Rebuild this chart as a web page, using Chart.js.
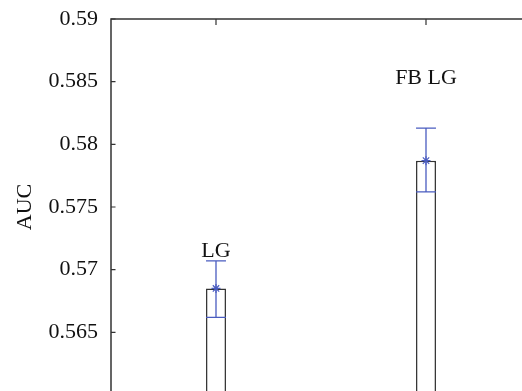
<!DOCTYPE html>
<html><head><meta charset="utf-8">
<script src="https://cdn.jsdelivr.net/npm/chart.js@4.4.1/dist/chart.umd.min.js"></script>
<style>
html,body{margin:0;padding:0;overflow:hidden;background:#fff;width:522px;height:391px}
#c{position:absolute;left:0;top:0}
</style></head><body>
<canvas id="c" width="545" height="410"></canvas>
<script>
const categories = ['LG', 'FB LG'];
const aucMean = [0.5685, 0.5787];
const errLow = [0.5662, 0.5762];
const errHigh = [0.5707, 0.5813];
const labelY = [0.5715, 0.5853];
const yTicks = [0.565, 0.57, 0.575, 0.58, 0.585, 0.59];
const yMin = 0.56, yMax = 0.59;

const FONT = '"Liberation Serif", "Times New Roman", serif';
const ERR = '#4a5cc0';
const AX = '#333333';

const overlay = {
  id: 'overlay',
  afterDatasetsDraw(chart) {
    const ctx = chart.ctx, xs = chart.scales.x, ys = chart.scales.y, ca = chart.chartArea;
    const bars = chart.getDatasetMeta(0).data;
    ctx.save();
    ctx.strokeStyle = ERR; ctx.lineWidth = 1.3;
    bars.forEach((b, i) => {
      const x = b.x, hw = b.width / 2;
      const yl = ys.getPixelForValue(errLow[i]), yh = ys.getPixelForValue(errHigh[i]);
      ctx.beginPath();
      ctx.moveTo(x, yl); ctx.lineTo(x, yh);
      ctx.moveTo(x - hw, yl); ctx.lineTo(x + hw, yl);
      ctx.moveTo(x - hw, yh); ctx.lineTo(x + hw, yh);
      ctx.stroke();
    });
    ctx.strokeStyle = AX; ctx.lineWidth = 1.5;
    ctx.beginPath();
    ctx.moveTo(ca.left, ca.bottom); ctx.lineTo(ca.left, ca.top); ctx.lineTo(ca.right, ca.top);
    ctx.stroke();
    ctx.lineWidth = 1.2;
    ctx.beginPath();
    yTicks.forEach(v => { const y = ys.getPixelForValue(v); ctx.moveTo(ca.left, y); ctx.lineTo(ca.left + 4.5, y); });
    categories.forEach((c, i) => { const x = xs.getPixelForValue(i); ctx.moveTo(x, ca.top); ctx.lineTo(x, ca.top + 6); });
    ctx.stroke();
    ctx.fillStyle = '#111111';
    ctx.font = '22px ' + FONT;
    ctx.textAlign = 'center'; ctx.textBaseline = 'middle';
    categories.forEach((c, i) => ctx.fillText(c, xs.getPixelForValue(i), ys.getPixelForValue(labelY[i])));
    ctx.restore();
  }
};

new Chart(document.getElementById('c'), {
  data: {
    labels: categories,
    datasets: [
      { type: 'bar', data: aucMean, backgroundColor: '#ffffff', borderColor: AX, borderWidth: 1.5,
        borderSkipped: false, barPercentage: 0.095, categoryPercentage: 1, base: yMin, order: 2 },
      { type: 'line', data: aucMean, showLine: false, pointStyle: 'star', pointRadius: 4.5,
        borderColor: ERR, backgroundColor: ERR, pointBorderWidth: 1.2, order: 1 }
    ]
  },
  options: {
    responsive: false, animation: false, devicePixelRatio: 1,
    layout: { padding: { left: 0, top: 19, right: 14, bottom: 15 } },
    plugins: { legend: { display: false }, tooltip: { enabled: false } },
    scales: {
      x: { type: 'category', offset: true, grid: { display: false, drawTicks: false }, border: { display: false },
           ticks: { display: false }, afterFit(s) { s.height = 0; } },
      y: { min: yMin, max: yMax,
           afterBuildTicks(s) { s.ticks = yTicks.map(v => ({ value: v })); },
           afterFit(s) { s.width = 111; s.paddingTop = 0; s.paddingBottom = 0; },
           grid: { display: false, drawTicks: false }, border: { display: false },
           ticks: { padding: 13, color: '#111111', font: { family: FONT, size: 22 },
                    callback: v => String(+v.toFixed(3)) },
           title: { display: true, text: 'AUC', color: '#111111', font: { family: FONT, size: 22 }, padding: { top: 12, bottom: 0 } } }
    }
  },
  plugins: [overlay]
});
</script>
</body></html>
